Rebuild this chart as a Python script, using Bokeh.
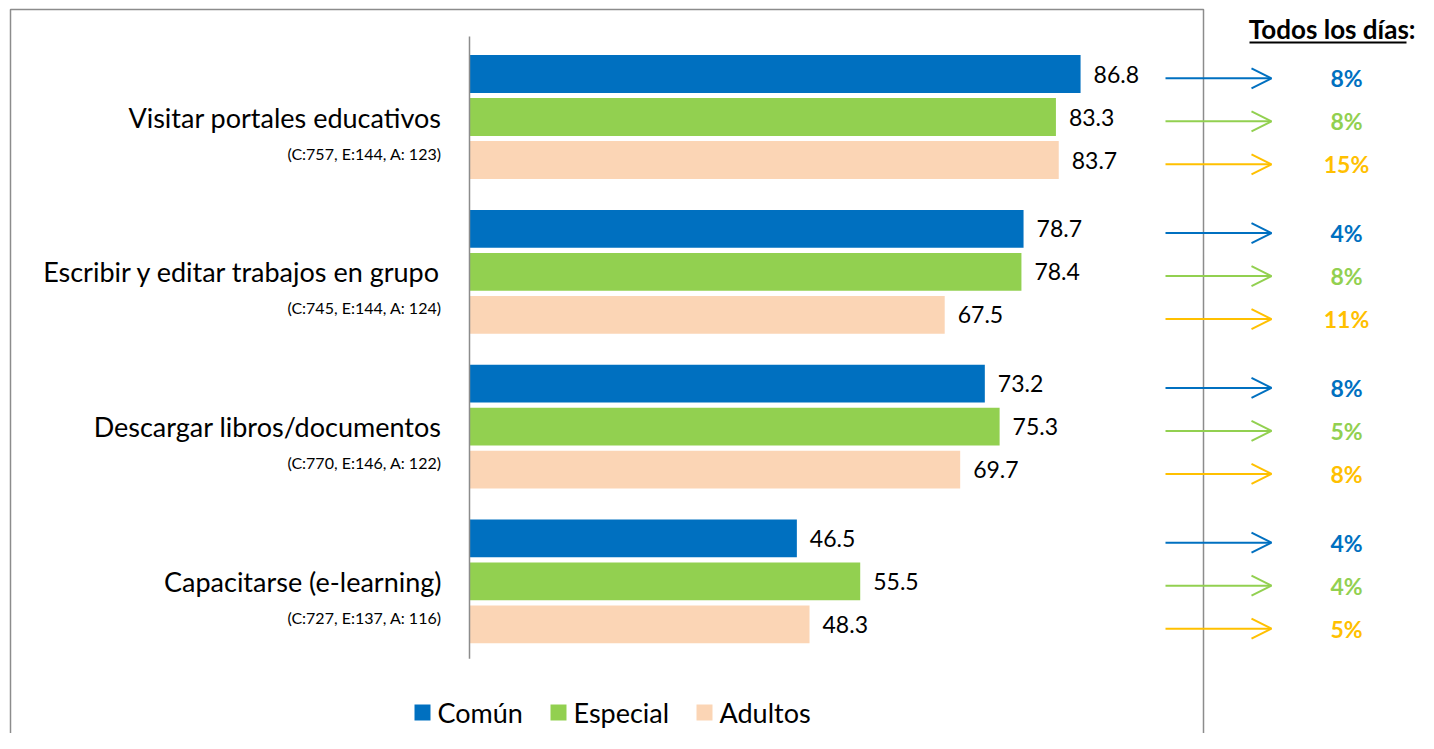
from bokeh.plotting import figure
from bokeh.models import Range1d, ColumnDataSource, Arrow, OpenHead
from bokeh.core.properties import value
from bokeh.embed import file_html
from bokeh.resources import INLINE

# ---------------- data ----------------
categories = ["Visitar portales educativos", "Escribir y editar trabajos en grupo",
              "Descargar libros/documentos", "Capacitarse (e-learning)"]
subtitles = ["(C:757, E:144, A: 123)", "(C:745, E:144, A: 124)",
             "(C:770, E:146, A: 122)", "(C:727, E:137, A: 116)"]
series = ["Común", "Especial", "Adultos"]
comun = [86.8, 78.7, 73.2, 46.5]
especial = [83.3, 78.4, 75.3, 55.5]
adultos = [83.7, 67.5, 69.7, 48.3]
todos_comun = ["8%", "4%", "8%", "4%"]
todos_especial = ["8%", "8%", "5%", "4%"]
todos_adultos = ["15%", "11%", "8%", "5%"]
side_title = "Todos los días:"

bar_colors = ["#0070C0", "#92D050", "#FBD5B5"]
accent_colors = ["#0070C0", "#92D050", "#FFC000"]
FONT = "Lato"

# ---------------- layout helpers ----------------
W, H = 1418, 733
X0_PAGE, PXU = 469.0, 7.04      # x pixel of value 0, pixels per unit
Y0_PAGE, SLOT = 73.5, 43.0      # y pixel of first bar centre, pixels per slot
GROUP_GAP = 0.6

def px_x(px):
    return (px - X0_PAGE) / PXU

def px_y(py):
    return (py - Y0_PAGE) / SLOT

p = figure(width=W, height=H, output_backend="svg", toolbar_location=None,
           x_range=Range1d(px_x(0), px_x(W)),
           y_range=Range1d(px_y(H), px_y(0)),
           min_border=0, min_border_left=0, min_border_right=0,
           min_border_top=0, min_border_bottom=0)
p.axis.visible = False
p.grid.visible = False
p.outline_line_color = None
p.background_fill_color = "white"

# outer chart border
p.line([px_x(10), px_x(10), px_x(1203), px_x(1203)],
       [px_y(760), px_y(9), px_y(9), px_y(760)], line_color="#8C8C8C", line_width=1.5)

all_vals = [comun, especial, adultos]
all_pct = [todos_comun, todos_especial, todos_adultos]

for s, (name, vals, pct) in enumerate(zip(series, all_vals, all_pct)):
    ys = [g * (3 + GROUP_GAP) + s for g in range(len(categories))]
    src = ColumnDataSource(dict(y=ys, v=vals, lab=[f"{v:.1f}" for v in vals],
                                pct=pct, ya=[y + 0.1 for y in ys],
                                xs=[px_x(1165)] * len(ys), xe=[px_x(1271)] * len(ys),
                                xt=[px_x(1346)] * len(ys)))
    p.hbar(y="y", right="v", left=0, height=0.88, source=src,
           fill_color=bar_colors[s], line_color=None)
    p.text(x="v", y="y", text="lab", source=src, x_offset=13,
           text_baseline="middle", text_align="left", text_font=value(FONT),
           text_font_size="23px", text_color="black")
    p.add_layout(Arrow(end=OpenHead(size=20, line_color=accent_colors[s], line_width=2),
                       x_start="xs", y_start="ya", x_end="xe", y_end="ya", source=src,
                       line_color=accent_colors[s], line_width=2))
    p.text(x="xt", y="ya", text="pct", source=src, text_baseline="middle",
           text_align="center", text_font=value(FONT), text_font_style="bold",
           text_font_size="23px", text_color=accent_colors[s])

# category labels
cy = [g * (3 + GROUP_GAP) + 1 for g in range(len(categories))]
sy = [g * (3 + GROUP_GAP) + 2 for g in range(len(categories))]
p.text(x=[0] * 4, y=cy, text=categories, x_offset=-28, text_align="right",
       text_baseline="middle", text_font=value(FONT), text_font_size="27px", text_color="black")
p.text(x=[0] * 4, y=sy, text=subtitles, x_offset=-28, y_offset=-7, text_align="right",
       text_baseline="middle", text_font=value(FONT), text_font_size="16px", text_color="black")

# vertical axis line
n = len(categories)
p.line([0, 0], [-0.5 - GROUP_GAP / 2 - 0.07, (n - 1) * (3 + GROUP_GAP) + 2.5 + GROUP_GAP / 2],
       line_color="#8C8C8C", line_width=1.5)

# side title with underline
p.text(x=[px_x(1415)], y=[px_y(28)], text=[side_title], text_align="right",
       text_baseline="middle", text_font=value(FONT), text_font_style="bold",
       text_font_size="26px", text_color="black")
p.line([px_x(1249), px_x(1406)], [px_y(42), px_y(42)], line_color="black", line_width=2)

# legend
leg_x = [422, 558, 704]
p.scatter(x=[px_x(v) for v in leg_x], y=[px_y(712)] * 3, marker="square", size=16,
          fill_color=bar_colors, line_color=None)
p.text(x=[px_x(v) for v in leg_x], y=[px_y(712)] * 3, text=series, x_offset=15,
       text_align="left", text_baseline="middle", text_font=value(FONT),
       text_font_size="27px", text_color="black")

open("out.html", "w").write(file_html(p, INLINE))
